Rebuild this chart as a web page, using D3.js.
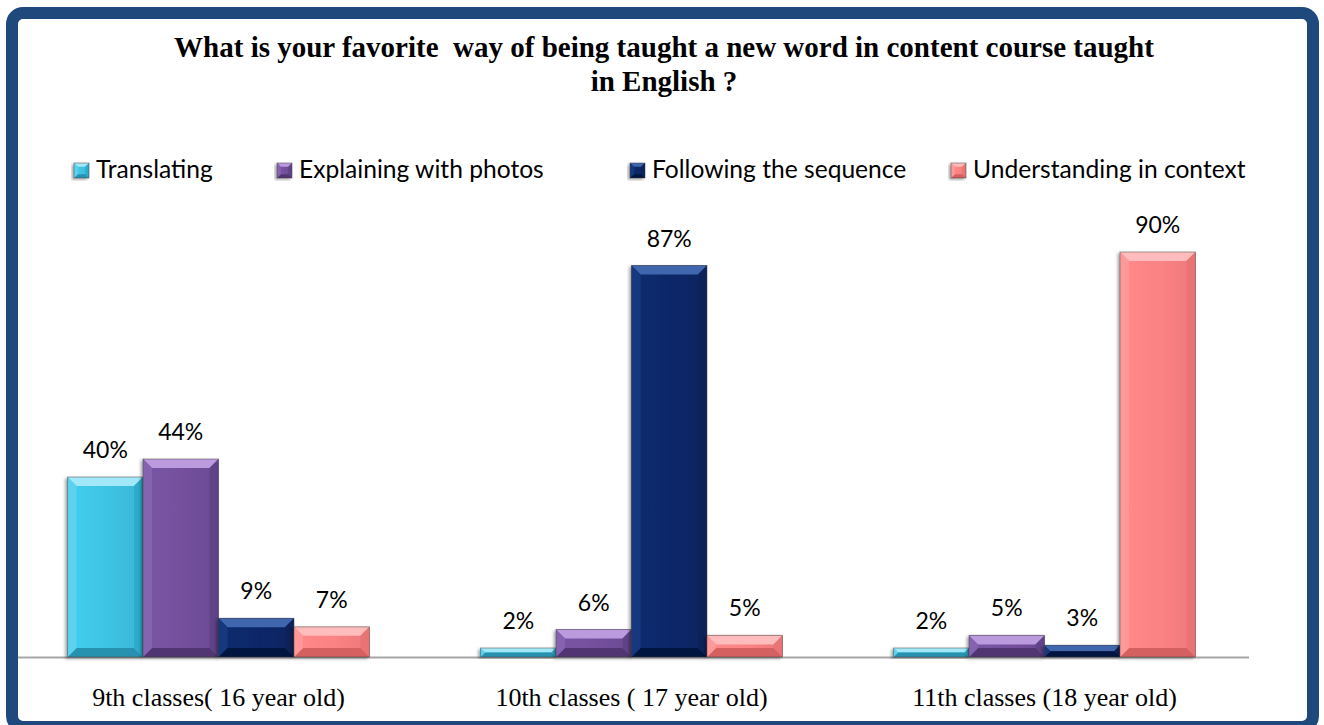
<!DOCTYPE html>
<html>
<head>
<meta charset="utf-8">
<script src="https://cdn.jsdelivr.net/npm/d3@7"></script>
<style>
  html, body { margin: 0; padding: 0; background: #ffffff; }
  svg { display: block; }
</style>
</head>
<body>
<script>
// ---------- data ----------
const categories = ["9th classes( 16 year old)", "10th classes ( 17 year old)", "11th classes (18 year old)"];
const seriesNames = ["Translating", "Explaining with photos", "Following the sequence", "Understanding in context"];
const translating = [40, 2.0, 2.0];
const explaining = [44, 6.1, 4.8];
const following = [8.6, 87, 2.6];
const understanding = [6.7, 4.8, 90];
const titleLines = ["What is your favorite  way of being taught a new word in content course taught", "in English ?"];

const seriesValues = [translating, explaining, following, understanding];
const palette = [
  { face: "#3ec3e3", light: "#a3e8f8", dark: "#2592b0", left: "#62d3ee", right: "#2ba7c6" },
  { face: "#74509d", light: "#bb9ade", dark: "#513673", left: "#8a67b4", right: "#5d4184" },
  { face: "#0b2868", light: "#4166ae", dark: "#051841", left: "#1b3c82", right: "#081f58" },
  { face: "#fc8283", light: "#ffbcbc", dark: "#d46060", left: "#ff9c9c", right: "#e87272" }
];

const W = 1324, H = 725;
const svg = d3.select("body").append("svg").attr("width", W).attr("height", H);
const defs = svg.append("defs");

const f = defs.append("filter").attr("id", "shadow").attr("x", "-20%").attr("y", "-20%").attr("width", "140%").attr("height", "140%");
f.append("feDropShadow").attr("dx", -2).attr("dy", 1.5).attr("stdDeviation", 1.6).attr("flood-color", "#000").attr("flood-opacity", 0.35);

palette.forEach((p, i) => {
  const g = defs.append("linearGradient").attr("id", "face" + i).attr("x1", 0).attr("x2", 1).attr("y1", 0).attr("y2", 0);
  g.append("stop").attr("offset", 0).attr("stop-color", d3.color(p.face).brighter(0.15));
  g.append("stop").attr("offset", 0.55).attr("stop-color", p.face);
  g.append("stop").attr("offset", 1).attr("stop-color", d3.color(p.face).darker(0.2));
});

// frame
svg.append("rect").attr("x", 12).attr("y", 13).attr("width", 1301).attr("height", 714)
  .attr("rx", 11).attr("fill", "#ffffff").attr("stroke", "#1f497d").attr("stroke-width", 12);

// title
svg.append("g").selectAll("text").data(titleLines).join("text")
  .attr("x", 664).attr("y", (d, i) => 57 + i * 34)
  .attr("text-anchor", "middle")
  .style("white-space", "pre")
  .attr("font-family", "'Liberation Serif', 'Times New Roman', serif")
  .attr("font-weight", "bold").attr("font-size", 29).attr("fill", "#000")
  .text(d => d);

// scales
const x = d3.scaleBand().domain(categories).range([12, 1251]).paddingInner(0.269).paddingOuter(0.1345);
const xs = d3.scaleBand().domain(seriesNames).range([0, x.bandwidth()]).padding(0);
const y = d3.scaleLinear().domain([0, 100]).range([657, 207]);

function bevelBar(g, x0, y0, w, h, p, i) {
  const d = Math.min(9, h / 2, w / 4);
  const x1 = x0 + w, y1 = y0 + h;
  const grp = g.append("g").attr("filter", "url(#shadow)");
  grp.append("rect").attr("x", x0).attr("y", y0).attr("width", w).attr("height", h).attr("fill", `url(#face${i})`);
  const poly = pts => pts.map(q => q.join(",")).join(" ");
  grp.append("polygon").attr("points", poly([[x0, y0], [x1, y0], [x1 - d, y0 + d], [x0 + d, y0 + d]])).attr("fill", p.light);
  grp.append("polygon").attr("points", poly([[x0, y1], [x1, y1], [x1 - d, y1 - d], [x0 + d, y1 - d]])).attr("fill", p.dark);
  grp.append("polygon").attr("points", poly([[x0, y0], [x0 + d, y0 + d], [x0 + d, y1 - d], [x0, y1]])).attr("fill", p.left).attr("opacity", 0.8);
  grp.append("polygon").attr("points", poly([[x1, y0], [x1 - d, y0 + d], [x1 - d, y1 - d], [x1, y1]])).attr("fill", p.right).attr("opacity", 0.8);
  grp.append("rect").attr("x", x0).attr("y", y0).attr("width", w).attr("height", h)
    .attr("fill", "none").attr("stroke", "rgba(60,60,60,0.45)").attr("stroke-width", 1);
}

// axis line
svg.append("line").attr("x1", 18).attr("x2", 1249).attr("y1", 657.5).attr("y2", 657.5)
  .attr("stroke", "#a6a6a6").attr("stroke-width", 2);

// bars
const barsG = svg.append("g");
const fmt = v => Math.round(v) + "%";
categories.forEach((c, ci) => {
  seriesNames.forEach((s, si) => {
    const v = seriesValues[si][ci];
    const bx = x(c) + xs(s), bw = xs.bandwidth();
    const by = y(v), bh = y(0) - y(v);
    bevelBar(barsG, bx, by, bw, bh, palette[si], si);
  });
});

// value labels
const labelData = [];
categories.forEach((c, ci) => seriesNames.forEach((s, si) => labelData.push({ c, s, v: seriesValues[si][ci] })));
svg.append("g").selectAll("text").data(labelData).join("text")
  .attr("x", d => x(d.c) + xs(d.s) + xs.bandwidth() / 2)
  .attr("y", d => y(d.v) - 19)
  .attr("text-anchor", "middle")
  .attr("font-family", "Lato, 'Open Sans', sans-serif").attr("font-size", 23).attr("fill", "#000")
  .text(d => fmt(d.v));

// category labels
svg.append("g").selectAll("text").data(categories).join("text")
  .attr("x", d => x(d) + x.bandwidth() / 2).attr("y", 706)
  .attr("text-anchor", "middle")
  .attr("font-family", "'Liberation Serif', 'Times New Roman', serif").attr("font-size", 26).attr("fill", "#000")
  .text(d => d);

// legend
const legendX = [74, 277, 630, 951];
const lg = svg.append("g");
seriesNames.forEach((s, i) => {
  const g = lg.append("g");
  bevelBar(g, legendX[i], 163, 15, 15, palette[i], i);
  g.append("text").attr("x", legendX[i] + 22).attr("y", 177.5)
    .attr("font-family", "Lato, 'Open Sans', sans-serif").attr("font-size", 24.6).attr("fill", "#000")
    .text(s);
});
</script>
</body>
</html>
